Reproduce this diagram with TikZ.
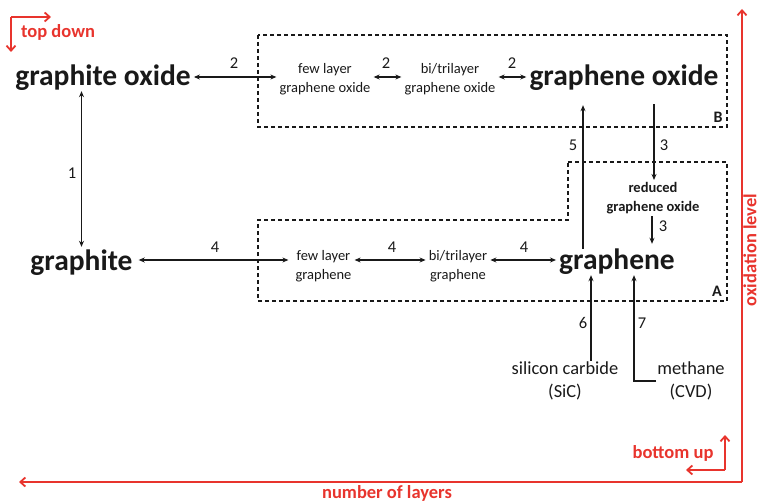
\documentclass[tikz,border=0pt]{standalone}
\usepackage{fontspec}
\setmainfont{Carlito}
\usetikzlibrary{arrows.meta}
\definecolor{axisred}{RGB}{232,52,45}
\definecolor{ink}{RGB}{25,25,25}
\begin{document}
\begin{tikzpicture}[x=1pt,y=-1pt,
  big/.style={font=\bfseries\fontsize{29.5}{35}\selectfont, text height=0.75em, text depth=0.25em, inner sep=3pt, text=ink},
  small/.style={font=\fontsize{14.5}{18.5}\selectfont, align=center, inner sep=3pt, text=ink},
  smallbold/.style={font=\bfseries\fontsize{14.5}{19}\selectfont, align=center, inner sep=2pt, text=ink},
  source/.style={font=\fontsize{18.4}{23}\selectfont, align=center, inner sep=1pt, text=ink},
  num/.style={font=\fontsize{16.5}{18}\selectfont, text=ink, inner sep=0pt},
  redlab/.style={font=\bfseries\fontsize{18.5}{22}\selectfont, text=axisred, inner sep=0pt},
  arr/.style={draw=ink, line width=1.3pt, -{Stealth[length=6pt,width=5pt]}},
  darr/.style={draw=ink, line width=1.3pt, {Stealth[length=6pt,width=5pt]}-{Stealth[length=6pt,width=5pt]}},
  zone/.style={draw=ink, line width=1.4pt, dash pattern=on 4pt off 3pt},
  redarr/.style={draw=axisred, line width=1.8pt, -{Straight Barb[length=5pt,width=9pt]}},
]
\useasboundingbox (0,0) rectangle (762,502);

% dashed regions
\draw[zone] (258,35) rectangle (727,127);
\draw[zone] (568,162) -- (727,162) -- (727,301) -- (258,301) -- (258,220) -- (568,220) -- cycle;
\node[font=\bfseries\fontsize{16}{18}\selectfont, text=ink, inner sep=0pt] (labB) at (718,117) {B};
\node[font=\bfseries\fontsize{16}{18}\selectfont, text=ink, inner sep=0pt] (labA) at (717,291) {A};

% materials
\node[big] (gox) at (103,83) {graphite oxide};
\node[big] (gite) at (81.5,268) {graphite};
\node[big] (gnox) at (624,83) {graphene oxide};
\node[big] (gr) at (617,267) {graphene};
\node[small] (flgo) at (325,79) {few layer\\graphene oxide};
\node[small] (blgo) at (450,79) {bi/trilayer\\graphene oxide};
\node[small] (flg) at (323.5,266) {few layer\\graphene};
\node[small] (blg) at (458,266) {bi/trilayer\\graphene};
\node[smallbold] (rgo) at (653,198) {reduced\\graphene oxide};
\node[source] (sic) at (565,381) {silicon carbide\\(SiC)};
\node[source] (meth) at (691,381) {methane\\(CVD)};

% oxidation row (arrows run level, just above the text middles)
\draw[darr] ([yshift=6pt]gox.east) -- ([yshift=6pt]gox.east -| flgo.west);
\draw[darr] ([yshift=2pt]flgo.east) -- ([yshift=2pt]flgo.east -| blgo.west);
\draw[darr] ([yshift=2pt]blgo.east) -- ([yshift=2pt]blgo.east -| gnox.west);
\node[num] (n2a) at (234,63) {2};
\node[num] (n2b) at (386,63) {2};
\node[num] (n2c) at (512,63) {2};

% graphite <-> graphite oxide
\draw[darr, shorten >=13pt] (gite.north |- gox.south) -- (gite.north);
\node[num] (n1) at (72,173) {1};

% exfoliation row
\draw[darr, shorten <=3pt, shorten >=4pt] ([yshift=8pt]gite.east) -- ([yshift=8pt]gite.east -| flg.west);
\draw[darr] ([yshift=6pt]flg.east) -- ([yshift=6pt]flg.east -| blg.west);
\draw[darr] ([yshift=6pt]blg.east) -- ([yshift=6pt]blg.east -| gr.west);
\node[num] (n4a) at (215,247) {4};
\node[num] (n4b) at (392,247) {4};
\node[num] (n4c) at (524,247) {4};

% oxidation / reduction of graphene
\draw[arr, shorten <=10pt, shorten >=14pt] ([xshift=-34pt]gr.north) -- ([xshift=-34pt]gr.north |- gnox.south);
\node[num] (n5) at (573,145) {5};
\draw[arr, shorten <=13pt] ([xshift=30pt]gnox.south) -- ([xshift=30pt]gnox.south |- rgo.north);
\node[num] (n3a) at (664,145) {3};
\draw[arr, shorten >=15pt] ([xshift=-1pt]rgo.south) -- ([xshift=-1pt]rgo.south |- gr.north);
\node[num] (n3b) at (663,226) {3};

% bottom-up routes
\draw[arr] ([xshift=26pt]sic.north) -- ([xshift=26pt]sic.north |- gr.south);
\node[num] (n6) at (583,323) {6};
\draw[arr] (meth.west) -| ([xshift=17pt]gr.south);
\node[num] (n7) at (642,323) {7};

% axes
\coordinate (axo) at (742,482);
\coordinate (axtop) at (742,9);
\coordinate (axleft) at (19,482);
\draw[redarr] (axo) -- (axtop);
\draw[redarr] (axo) -- (axleft);
\node[redlab, rotate=90] (oxl) at (750,250) {oxidation level};
\node[redlab] (nol) at (387,493) {number of layers};

% top down marker
\coordinate (tdc) at (11,17);
\coordinate (tdd) at (11,52);
\coordinate (tdr) at (51,17);
\draw[redarr] (tdc) -- (tdd);
\draw[redarr] (tdc) -- (tdr);
\node[redlab] (td) at (58,32) {top down};

% bottom up marker
\coordinate (buc) at (725,470);
\coordinate (buu) at (725,435);
\coordinate (bul) at (686,470);
\draw[redarr] (buc) -- (buu);
\draw[redarr] (buc) -- (bul);
\node[redlab] (bu) at (673,453) {bottom up};
\end{tikzpicture}
\end{document}
